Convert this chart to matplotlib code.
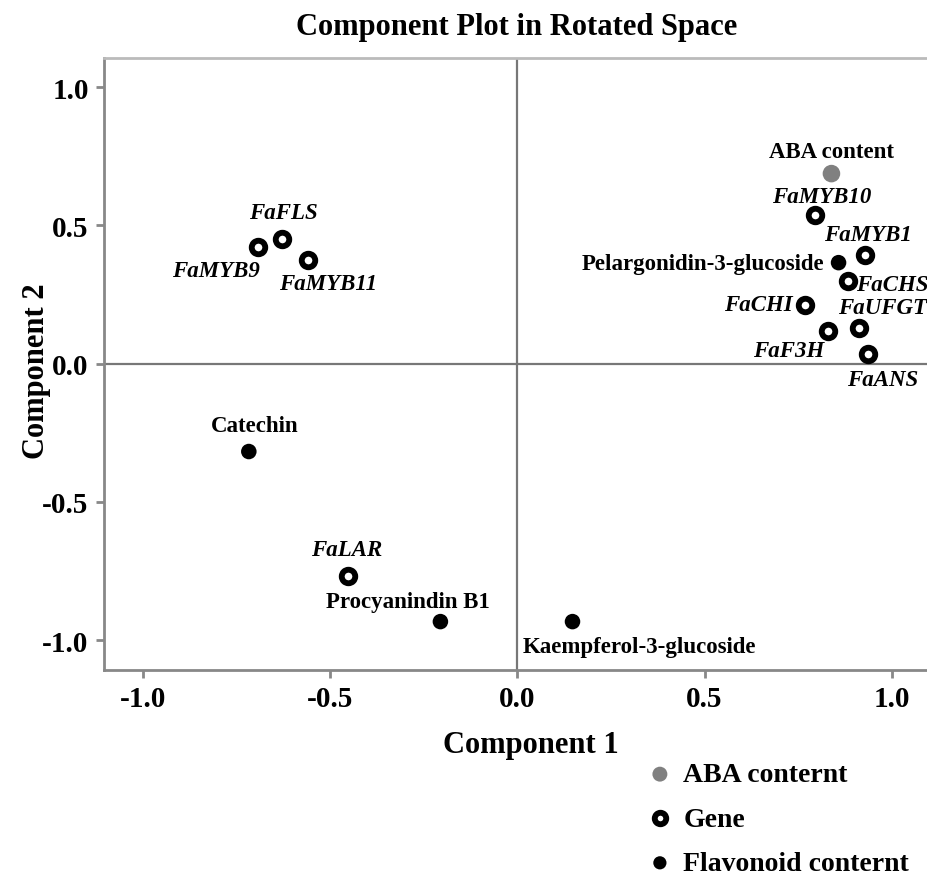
import matplotlib
matplotlib.use("Agg")
import matplotlib.pyplot as plt

plt.rcParams['font.family'] = ['Liberation Serif', 'DejaVu Serif']
plt.rcParams['font.weight'] = 'bold'

# loadings
gene_names = ["FaMYB10", "FaMYB1", "FaCHS", "FaCHI", "FaUFGT", "FaF3H", "FaANS",
              "FaFLS", "FaMYB9", "FaMYB11", "FaLAR"]
gene_x = [0.794, 0.930, 0.882, 0.769, 0.912, 0.831, 0.936, -0.630, -0.694, -0.560, -0.453]
gene_y = [0.539, 0.391, 0.300, 0.213, 0.130, 0.119, 0.036, 0.452, 0.423, 0.373, -0.767]

flav_names = ["Pelargonidin-3-glucoside", "Catechin", "Procyanindin B1", "Kaempferol-3-glucoside"]
flav_x = [0.858, -0.718, -0.206, 0.147]
flav_y = [0.365, -0.318, -0.933, -0.933]

aba_names = ["ABA content"]
aba_x = [0.839]
aba_y = [0.687]

legend_labels = ["ABA conternt", "Gene", "Flavonoid conternt"]

# label placement: offset in pixels and horizontal alignment
label_pos = {
    "ABA content": ((0, 22), "center"),
    "FaMYB10": ((7, 18), "center"),
    "FaMYB1": ((2, 21), "center"),
    "Pelargonidin-3-glucoside": ((-14, -1), "right"),
    "FaCHS": ((8, -4), "left"),
    "FaCHI": ((-13, 0), "right"),
    "FaUFGT": ((24, 20), "center"),
    "FaF3H": ((-40, -20), "center"),
    "FaANS": ((15, -26), "center"),
    "FaFLS": ((2, 26), "center"),
    "FaMYB9": ((-42, -24), "center"),
    "FaMYB11": ((20, -23), "center"),
    "Catechin": ((6, 26), "center"),
    "FaLAR": ((-1, 26), "center"),
    "Procyanindin B1": ((-33, 20), "center"),
    "Kaempferol-3-glucoside": ((-50, -25), "left"),
}

fig = plt.figure(figsize=(9.28, 8.79), dpi=100)
ax = fig.add_axes([104/928, 1 - 671/879, 1 - 104/928 + 0.002, (671 - 59)/879])

ax.set_xlim(-1.105, 1.102)
ax.set_ylim(-1.108, 1.105)

ax.axhline(0, color='#777777', lw=1.6, zorder=1)
ax.axvline(0, color='#777777', lw=1.6, zorder=1)

ax.scatter(aba_x, aba_y, s=160, color='#808080', edgecolor='none', zorder=3, label=legend_labels[0])
ax.scatter(gene_x, gene_y, s=95, facecolor='white', edgecolor='black', linewidths=4.2, zorder=3,
           label=legend_labels[1])
ax.scatter(flav_x, flav_y, s=125, color='black', edgecolor='none', zorder=3, label=legend_labels[2])

for names, xs, ys, italic in [(aba_names, aba_x, aba_y, False), (gene_names, gene_x, gene_y, True),
                              (flav_names, flav_x, flav_y, False)]:
    for n, x, y in zip(names, xs, ys):
        off, ha = label_pos[n]
        ax.annotate(n, (x, y), xytext=off, textcoords='offset pixels', ha=ha, va='center',
                    fontsize=16.5, fontweight='bold', style='italic' if italic else 'normal')

ticks = [-1.0, -0.5, 0.0, 0.5, 1.0]
ax.set_xticks(ticks)
ax.set_yticks(ticks)
ax.set_xticklabels([f"{t:.1f}" for t in ticks])
ax.set_yticklabels([f"{t:.1f}" for t in ticks])
ax.tick_params(axis='both', direction='out', length=6, width=2, color='#888888', labelsize=21, pad=5)

for s in ['left', 'bottom']:
    ax.spines[s].set_color('#888888')
    ax.spines[s].set_linewidth(2)
ax.spines['top'].set_color('#bbbbbb')
ax.spines['top'].set_linewidth(2)
ax.spines['right'].set_visible(False)

ax.set_xlabel("Component 1", fontsize=22, fontweight='bold')
ax.set_ylabel("Component 2", fontsize=22, fontweight='bold')
ax.xaxis.set_label_coords((530 - 104) / (928 - 104), -(746 - 671) / (671 - 59))
ax.yaxis.set_label_coords(-(104 - 37) / (928 - 104), 0.49)
for lab in (ax.xaxis.label, ax.yaxis.label):
    lab.set_va('center')
fig.suptitle("Component Plot in Rotated Space", x=517/928, y=1 - 28/879, va='center',
             fontsize=22, fontweight='bold')

fig.legend(loc='upper left', bbox_to_anchor=(646/928, 1 - 763/879), frameon=False,
           fontsize=20, handlelength=1.0, handletextpad=0.35, labelspacing=0.68,
           borderaxespad=0, borderpad=0, markerscale=0.85)

fig.savefig("out.png", dpi=100)
